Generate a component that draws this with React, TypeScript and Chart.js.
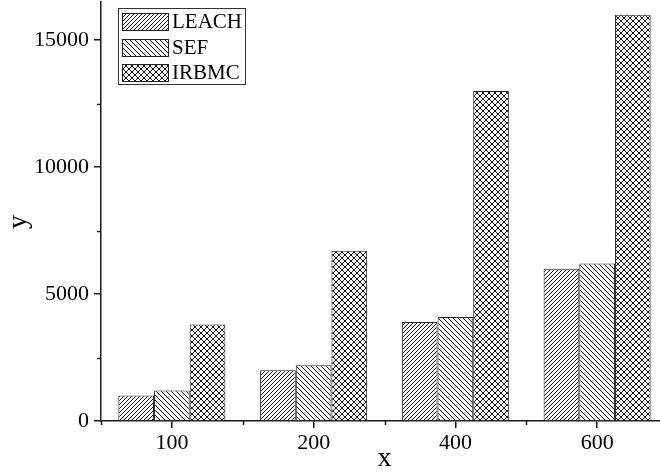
import React, { useEffect, useRef } from "react";
import { Chart, registerables } from "chart.js";

Chart.register(...registerables);

const categories = ["100", "200", "400", "600"];
const leachValues = [1000, 2000, 3900, 6000];
const sefValues = [1200, 2200, 4100, 6200];
const irbmcValues = [3800, 6700, 13000, 16000];
const seriesLabels = ["LEACH", "SEF", "IRBMC"];
const yTickValues = [0, 5000, 10000, 15000];
const yMinorTickValues = [2500, 7500, 12500];
const yMax = 16500;

const FONT = "'Liberation Serif', 'Times New Roman', serif";
const INK = "#1a1a1a";

function makePattern(kind: string, p: number): CanvasPattern | string {
  const c = document.createElement("canvas");
  c.width = p;
  c.height = p;
  const g = c.getContext("2d");
  if (!g) return "#fff";
  g.fillStyle = "#fff";
  g.fillRect(0, 0, p, p);
  g.fillStyle = "#111";
  for (let i = 0; i < p; i++) {
    if (kind.includes("/")) g.fillRect(i, p - 1 - i, 1, 1);
    if (kind.includes("\\")) g.fillRect(i, i, 1, 1);
  }
  const pat = g.createPattern(c, "repeat");
  return pat || "#fff";
}

const extrasPlugin = {
  id: "extras",
  afterDraw(chart: any) {
    const { ctx, chartArea, scales } = chart;
    const xs = scales.x;
    const ys = scales.y;
    ctx.save();
    ctx.strokeStyle = INK;
    ctx.lineWidth = 1.5;
    // minor y ticks
    yMinorTickValues.forEach((v) => {
      const py = Math.round(ys.getPixelForValue(v)) + 0.5;
      ctx.beginPath();
      ctx.moveTo(chartArea.left, py);
      ctx.lineTo(chartArea.left - 4, py);
      ctx.stroke();
    });
    // minor x ticks at category boundaries
    const w = xs.getPixelForValue(1) - xs.getPixelForValue(0);
    for (let i = 0; i <= categories.length; i++) {
      const px = Math.round(xs.getPixelForValue(0) - w / 2 + i * w) + 0.5;
      ctx.beginPath();
      ctx.moveTo(px, chartArea.bottom);
      ctx.lineTo(px, chartArea.bottom + 4);
      ctx.stroke();
    }
    // legend
    const bx = chartArea.left + 17;
    const by = chartArea.top + 6;
    const bw = 127;
    const bh = 76;
    ctx.fillStyle = "#fff";
    ctx.fillRect(bx, by, bw, bh);
    ctx.lineWidth = 1;
    ctx.strokeStyle = "#333";
    ctx.strokeRect(bx + 0.5, by + 0.5, bw, bh);
    ctx.font = `21px ${FONT}`;
    ctx.textBaseline = "middle";
    ctx.textAlign = "left";
    chart.data.datasets.forEach((ds: any, i: number) => {
      const sy = Math.round(by + 5 + i * 25.5);
      const sx = bx + 4;
      ctx.fillStyle = ds.backgroundColor;
      ctx.fillRect(sx, sy, 46, 17);
      ctx.strokeStyle = "#222";
      ctx.strokeRect(sx + 0.5, sy + 0.5, 46, 17);
      ctx.fillStyle = "#000";
      ctx.fillText(ds.label, sx + 50, sy + 9);
    });
    ctx.restore();
  },
};

export default function App() {
  const ref = useRef<HTMLCanvasElement | null>(null);
  useEffect(() => {
    if (!ref.current) return;
    const patterns = [makePattern("/", 4), makePattern("\\", 5), makePattern("/\\", 6)];
    const values = [leachValues, sefValues, irbmcValues];
    const chart = new Chart(ref.current, {
      type: "bar",
      data: {
        labels: categories,
        datasets: seriesLabels.map((label, i) => ({
          label,
          data: values[i],
          backgroundColor: patterns[i] as any,
          borderColor: "#222",
          borderWidth: 1,
          categoryPercentage: 0.755,
          barPercentage: 1.0,
        })),
      },
      options: {
        responsive: false,
        animation: false,
        layout: { padding: { left: 1.5, top: 2, right: 12, bottom: 0 } },
        plugins: { legend: { display: false }, tooltip: { enabled: false } },
        scales: {
          x: {
            offset: true,
            grid: {
              offset: false,
              drawOnChartArea: false,
              drawTicks: true,
              tickLength: 7,
              color: INK,
              lineWidth: 1.5,
            },
            border: { display: true, color: INK, width: 1.5 },
            ticks: { color: "#000", font: { family: FONT, size: 22 }, padding: 2, maxRotation: 0 },
            title: {
              display: true,
              text: "x",
              color: "#000",
              font: { family: FONT, size: 28 },
              padding: 0,
            },
            afterFit(scale: any) {
              scale.height = 54;
              scale.paddingLeft = 0;
              scale.paddingRight = 0;
            },
          },
          y: {
            min: 0,
            max: yMax,
            afterBuildTicks(scale: any) {
              scale.ticks = yTickValues.map((v) => ({ value: v }));
            },
            grid: {
              drawOnChartArea: false,
              drawTicks: true,
              tickLength: 7,
              color: INK,
              lineWidth: 1.5,
            },
            border: { display: true, color: INK, width: 1.5 },
            ticks: {
              color: "#000",
              font: { family: FONT, size: 22 },
              padding: 5,
              callback: (v: any) => String(v),
            },
            title: {
              display: true,
              text: "y   ",
              color: "#000",
              font: { family: FONT, size: 28 },
              padding: 0,
            },
            afterFit(scale: any) {
              scale.width = 99.5;
              scale.paddingTop = 0;
              scale.paddingBottom = 0;
            },
          },
        },
      },
      plugins: [extrasPlugin],
    });
    return () => chart.destroy();
  }, []);
  return (
    <div
      style={{
        position: "fixed",
        left: 0,
        top: 0,
        width: 660,
        height: 475,
        overflow: "hidden",
        background: "#fff",
      }}
    >
      <canvas ref={ref} width={680} height={475} style={{ display: "block" }} />
    </div>
  );
}
